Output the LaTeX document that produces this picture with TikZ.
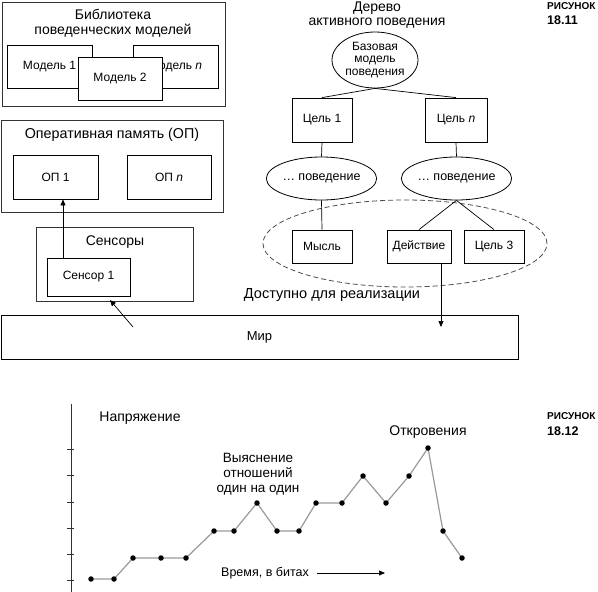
\documentclass[tikz,border=0pt]{standalone}
\usepackage{fontspec}
\setmainfont{Liberation Sans}
\usetikzlibrary{shapes.geometric,arrows.meta,calc}
\newcommand\fsz[1]{\fontsize{#1}{#1}\selectfont}
\begin{document}
\begin{tikzpicture}[x=1pt,y=-1pt,
  outer/.style={draw=black!80, line width=1pt, inner sep=0pt},
  box/.style={draw, line width=0.8pt, inner sep=0pt, fill=white, font=\fsz{12}},
  ell/.style={draw, ellipse, line width=0.8pt, inner sep=0pt, font=\fsz{12.5}},
  lbl/.style={inner sep=0pt, align=center},
  tip/.style={-{Triangle[length=6pt,width=5pt]}, line width=0.7pt},
  conn/.style={line width=0.7pt},
  dot/.style={circle, fill=black, inner sep=0pt, minimum size=5.5pt},
  fig/.style={inner sep=0pt, anchor=west, font=\bfseries}
]
\useasboundingbox (0,0) rectangle (598,592);

% Library
\node[outer, minimum width=223pt, minimum height=104pt] (lib) at (113.5,54) {};
\node[lbl, font={\fontsize{14}{15}\selectfont}] (libt) at (113,23) {Библиотека\\поведенческих моделей};
\node[box, minimum width=85pt, minimum height=43pt] (m1) at (49.5,66.5) {Модель 1};
\node[box, minimum width=85pt, minimum height=43pt] (mn) at (175.5,66.5) {Модель \textit{n}};
\node[box, minimum width=84pt, minimum height=43pt] (m2) at (120,78.5) {Модель 2};

% Operative memory
\node[outer, minimum width=222pt, minimum height=92pt] (op) at (112,166) {};
\node[lbl, font=\fsz{14.3}] (opt) at (112,135) {Оперативная память (ОП)};
\node[box, minimum width=85pt, minimum height=44pt] (op1) at (55.5,177) {ОП 1};
\node[box, minimum width=84pt, minimum height=44pt] (opn) at (169,177) {ОП \textit{n}};

% Sensors
\node[outer, minimum width=157pt, minimum height=74pt] (sens) at (114.5,264) {};
\node[lbl, font=\fsz{14}] (senst) at (115,242) {Сенсоры};
\node[box, minimum width=83pt, minimum height=38pt] (s1) at (88.5,277) {Сенсор 1};
\draw[tip] ([xshift=-25.5pt]s1.north) -- ([xshift=7.5pt]op1.south);

% World
\node[box, line width=1pt, minimum width=517pt, minimum height=44pt, font=\fsz{13}] (mir) at (259.5,337) {Мир};
\coordinate (mirA) at (133,327);
\coordinate (mirB) at (110,300);
\draw[tip] (mirA) -- (mirB);

% Tree
\node[lbl, font={\fontsize{14}{14.5}\selectfont}] (treet) at (377,15) {Дерево\\активного поведения};
\node[ell, minimum width=86pt, minimum height=56pt, align=center, font={\fontsize{12}{12.8}\selectfont}] (base) at (375,60) {Базовая\\модель\\поведения};
\node[box, minimum width=60pt, minimum height=44pt] (c1) at (322,120) {Цель 1};
\node[box, minimum width=62pt, minimum height=44pt] (cn) at (456,120) {Цель \textit{n}};
\node[ell, minimum width=99pt, minimum height=43pt] (e1) at (321.5,178.5) {\dots\ поведение};
\node[ell, minimum width=99pt, minimum height=43pt] (e2) at (456.5,178.5) {\dots\ поведение};
\node[draw=black!70, ellipse, dash pattern=on 5pt off 3pt, line width=0.8pt, minimum width=284pt, minimum height=87pt] (avail) at (405,243.5) {};
\node[box, minimum width=60pt, minimum height=33pt] (th) at (322,246.5) {Мысль};
\node[box, minimum width=64pt, minimum height=33pt] (act) at (419,246.5) {Действие};
\node[box, minimum width=60pt, minimum height=33pt] (c3) at (494,246.5) {Цель 3};
\draw[conn] (base.south) -- (c1.north);
\draw[conn] (base.south) -- (cn.north);
\draw[conn] (c1.south) -- (e1.north);
\draw[conn] (cn.south) -- (e2.north);
\draw[conn] (e1.south) -- (th.north);
\draw[conn] (e2.south) -- (act.north);
\draw[conn] (e2.south) -- (c3.north);
\coordinate (actdown) at (441,327);
\draw[tip] ([xshift=22pt]act.south) -- (actdown);
\node[lbl, font=\fsz{14.5}] (availt) at (332,295) {Доступно для реализации};

\node[fig, font=\bfseries\fsz{10}] (fig1a) at (547,6) {РИСУНОК};
\node[fig, font=\bfseries\fsz{12.5}] (fig1b) at (547,20) {18.11};

% Chart
\coordinate (ytop) at (71,404);
\coordinate (ybot) at (71,592);
\draw[line width=0.8pt, black!80] (ytop) -- (ybot);
\foreach \yy in {449,475,502,528,554,580} {
  \draw[line width=0.8pt, black!80] (67,\yy) -- (74,\yy);
}
\node[lbl, font=\fsz{14}] (naprt) at (140,418) {Напряжение};
\draw[line width=1.2pt, black!40]
  (91,579) -- (114,579) -- (133,558) -- (161,558) -- (186,558) -- (214,531) -- (234,531)
  -- (257,503) -- (277,531) -- (299,531) -- (316,503) -- (342,503) -- (363,476)
  -- (386,503) -- (409,476) -- (428,448) -- (443,531) -- (462,558);
\foreach \px/\py [count=\i] in {91/579,114/579,133/558,161/558,186/558,214/531,234/531,257/503,277/531,299/531,316/503,342/503,363/476,386/503,409/476,428/448,443/531,462/558} {
  \node[dot] (p\i) at (\px,\py) {};
}
\node[lbl, font={\fontsize{13.5}{15}\selectfont}] (clar) at (258,474) {Выяснение\\отношений\\один на один};
\node[lbl, font=\fsz{14}] (rev) at (428,432) {Откровения};
\node[lbl, font=\fsz{12.5}] (timet) at (265,573) {Время, в битах};
\coordinate (tA) at (317,573);
\coordinate (tB) at (385,573);
\draw[tip] (tA) -- (tB);

\node[fig, font=\bfseries\fsz{10}] (fig2a) at (547,416) {РИСУНОК};
\node[fig, font=\bfseries\fsz{12.5}] (fig2b) at (547,431) {18.12};
\end{tikzpicture}
\end{document}
